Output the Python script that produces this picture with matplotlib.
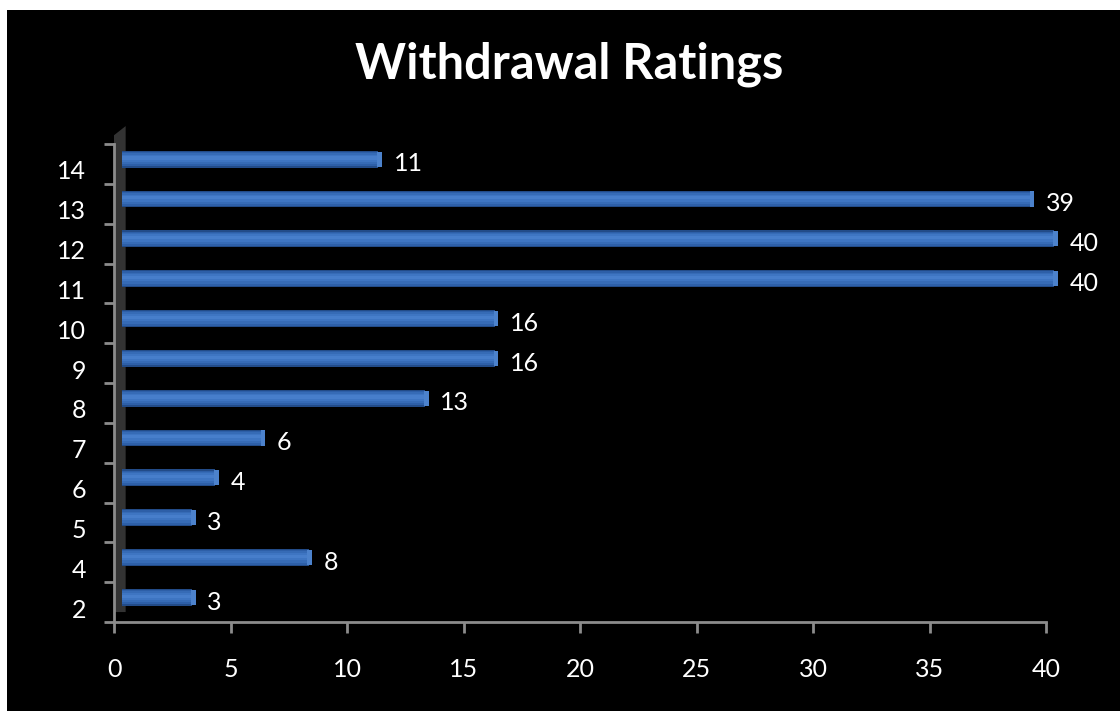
import numpy as np
import matplotlib.pyplot as plt
import matplotlib.transforms as mtransforms
from matplotlib.patches import Rectangle, Polygon

# data
categories = ['2', '4', '5', '6', '7', '8', '9', '10', '11', '12', '13', '14']
values = [3, 8, 3, 4, 6, 13, 16, 16, 40, 40, 39, 11]
x_ticks = [0, 5, 10, 15, 20, 25, 30, 35, 40]

plt.rcParams['font.family'] = ['Lato', 'DejaVu Sans']

W, H = 1120, 711
fig = plt.figure(figsize=(W / 100, H / 100), dpi=100)
fig.patch.set_facecolor('white')
# black slide area (small white border top/left)
fig.add_artist(Rectangle((7 / W, 0), 1, 1 - 10 / H, transform=fig.transFigure,
                         facecolor='black', edgecolor='none', zorder=0))

ax = fig.add_axes([114 / W, (H - 622) / H, (1046 - 114) / W, (622 - 144) / H])
ax.set_facecolor('black')
ax.patch.set_alpha(0)

y = np.arange(len(categories))
# bars sit a bit above the slot centre (3d look)
yc = y + 0.12

# 3d side wall
wall = Polygon([(0, -0.25), (0, 11.72), (0.5, 11.95), (0.5, -0.25)], closed=True,
               facecolor='#333333', edgecolor='none', zorder=1, clip_on=False)
ax.add_patch(wall)

vals = np.array(values, dtype=float)
# cylinder look: stacked layers, dark rim -> light core
layers = [(0.42, 0.0, '#224b88'), (0.36, 0.0, '#2d5fa8'), (0.28, 0.01, '#366bb6'),
          (0.18, 0.02, '#3e75c2'), (0.08, 0.03, '#477ecb')]
for i, (h, dy, c) in enumerate(layers):
    ax.barh(yc + dy, vals, left=0.35, height=h, color=c, linewidth=0, zorder=3 + i, clip_on=False)
# lighter end cap
ax.barh(yc, np.full(len(vals), 0.2), left=vals + 0.3, height=0.38, color='#4c82cc',
        linewidth=0, zorder=9, clip_on=False)

for yi, v in zip(yc, values):
    ax.text(v + 1.0, yi - 0.12, str(v), color='white', fontsize=18, va='center', ha='left')

ax.set_xlim(0, 40)
ax.set_ylim(-0.5, len(categories) - 0.5)
ax.set_xticks(x_ticks)
ax.set_xticklabels([str(t) for t in x_ticks])
ax.set_yticks(y)
ax.set_yticklabels(categories)
ax.set_yticks(np.arange(-0.5, len(categories), 1.0), minor=True)

for s in ['top', 'right']:
    ax.spines[s].set_visible(False)
for s in ['left', 'bottom']:
    ax.spines[s].set_color('#8c8c8c')
    ax.spines[s].set_linewidth(2)
    ax.spines[s].set_zorder(10)

ax.tick_params(axis='x', colors='#8c8c8c', length=8, width=2, pad=18, labelsize=18, labelcolor='white')
ax.tick_params(axis='y', which='major', length=0, pad=20, labelsize=18, labelcolor='white')
ax.tick_params(axis='y', which='minor', colors='#8c8c8c', length=7, width=2)

# shift y labels down a little like the original
offset = mtransforms.ScaledTranslation(0, -6 / 100, fig.dpi_scale_trans)
for lab in ax.get_yticklabels():
    lab.set_transform(lab.get_transform() + offset)

fig.text(0.508, (H - 64) / H, 'Withdrawal Ratings', color='white', fontsize=35,
         fontweight='bold', ha='center', va='center')

fig.savefig('out.png', dpi=100, facecolor=fig.get_facecolor())
